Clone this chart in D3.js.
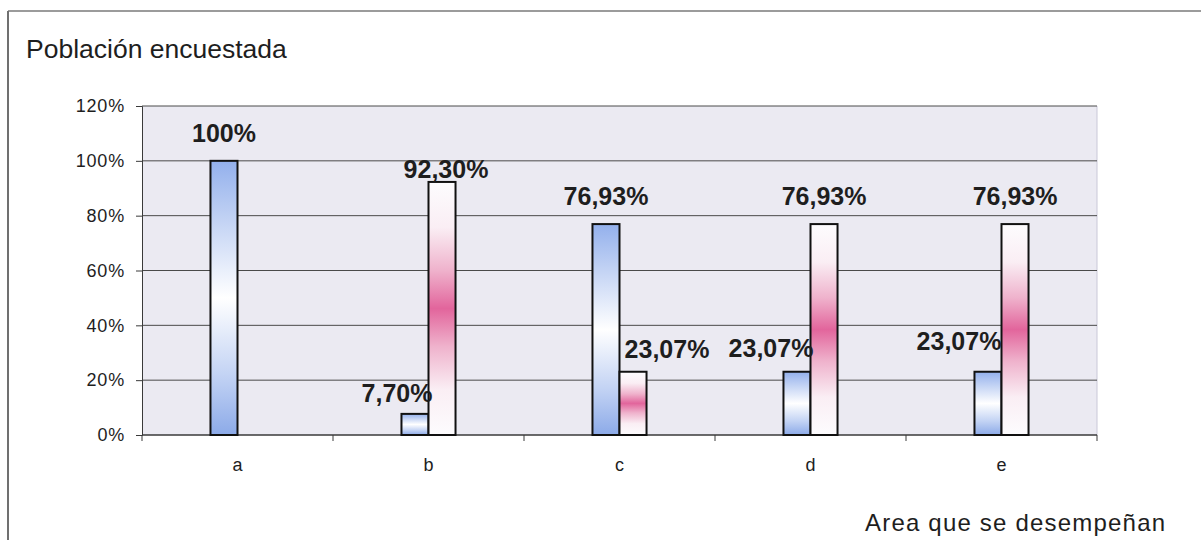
<!DOCTYPE html>
<html>
<head>
<meta charset="utf-8">
<script src="https://cdn.jsdelivr.net/npm/d3@7"></script>
<style>
  html, body { margin: 0; padding: 0; background: #fff; }
  svg { display: block; }
  text { font-family: "Liberation Sans", Arial, sans-serif; fill: #1e1e1e; }
</style>
</head>
<body>
<svg id="chart" width="1201" height="540"></svg>
<script>
// ---- data ----
const categories = ["a", "b", "c", "d", "e"];
const seriesNames = ["serie1", "serie2"];
const serie1 = [100, 7.70, 76.93, 23.07, 23.07];
const serie2 = [0, 92.30, 23.07, 76.93, 76.93];
const yTicks = [0, 20, 40, 60, 80, 100, 120];
const chartTitle = "Población encuestada";
const xTitle = "Area que se desempeñan";

// ---- layout config (label nudges, not data) ----
const labelNudge = {
  "serie1-b": [-18, 7], "serie2-b": [4, 15], "serie2-c": [34, 5],
  "serie1-d": [-26, 4], "serie1-e": [-29, -3]
};

const svg = d3.select("#chart");
const W = 1201, H = 540;
const plot = { left: 142, right: 1097, top: 106, bottom: 435 };

svg.append("rect").attr("width", W).attr("height", H).attr("fill", "#fff");

// outer frame (top + left)
svg.append("line").attr("x1", 8).attr("x2", W).attr("y1", 11).attr("y2", 11)
  .attr("stroke", "#7a7a7a").attr("stroke-width", 1.5);
svg.append("line").attr("x1", 8).attr("x2", 8).attr("y1", 11).attr("y2", H)
  .attr("stroke", "#707070").attr("stroke-width", 2);

// gradients
const defs = svg.append("defs");
const gBlue = defs.append("linearGradient").attr("id", "gBlue")
  .attr("x1", 0).attr("y1", 0).attr("x2", 0).attr("y2", 1);
[[0, "#93b0ec"], [0.22, "#c3d3f4"], [0.5, "#ffffff"], [0.78, "#c3d3f4"], [1, "#8caae8"]]
  .forEach(([o, c]) => gBlue.append("stop").attr("offset", o).attr("stop-color", c));
const gPink = defs.append("linearGradient").attr("id", "gPink")
  .attr("x1", 0).attr("y1", 0).attr("x2", 0).attr("y2", 1);
[[0, "#fdfcfe"], [0.18, "#faeef4"], [0.35, "#efb2cc"], [0.5, "#e2659c"], [0.65, "#efb2cc"], [0.82, "#faeef4"], [1, "#fdfcfe"]]
  .forEach(([o, c]) => gPink.append("stop").attr("offset", o).attr("stop-color", c));
const fills = { serie1: "url(#gBlue)", serie2: "url(#gPink)" };

// scales
const x0 = d3.scaleBand().domain(categories).range([plot.left, plot.right])
  .paddingInner(0.717).paddingOuter(0.3585);
const x1 = d3.scaleBand().domain(seriesNames).range([0, x0.bandwidth()]).padding(0);
const y = d3.scaleLinear().domain([0, 120]).range([plot.bottom, plot.top]);

// plot background
svg.append("rect").attr("x", plot.left).attr("y", plot.top)
  .attr("width", plot.right - plot.left).attr("height", plot.bottom - plot.top)
  .attr("fill", "#ebeaf2");
svg.append("line").attr("x1", plot.right).attr("x2", plot.right)
  .attr("y1", plot.top).attr("y2", plot.bottom).attr("stroke", "#c9c8d8");

// gridlines
svg.append("g").selectAll("line").data(yTicks.filter(t => t > 0)).join("line")
  .attr("x1", plot.left).attr("x2", plot.right)
  .attr("y1", d => y(d)).attr("y2", d => y(d))
  .attr("stroke", "#4a4a4a").attr("stroke-width", 1);

// y axis
const yAxis = svg.append("g").attr("transform", `translate(${plot.left},0)`)
  .call(d3.axisLeft(y).tickValues(yTicks).tickFormat(d => d + "%").tickSizeOuter(0).tickSize(6).tickPadding(11));
yAxis.select(".domain").attr("stroke", "#3a3a3a");
yAxis.selectAll(".tick line").attr("stroke", "#3a3a3a");
yAxis.selectAll("text").attr("font-size", 18).attr("letter-spacing", 0.8)
  .attr("font-family", "Liberation Sans, Arial, sans-serif").attr("fill", "#222");

// x axis
const xBound = d3.scaleLinear().domain([0, categories.length]).range([plot.left, plot.right]);
svg.append("line").attr("x1", plot.left).attr("x2", plot.right)
  .attr("y1", plot.bottom).attr("y2", plot.bottom).attr("stroke", "#3a3a3a").attr("stroke-width", 1.5);
svg.append("g").selectAll("line").data(d3.range(categories.length + 1)).join("line")
  .attr("x1", d => xBound(d)).attr("x2", d => xBound(d))
  .attr("y1", plot.bottom).attr("y2", plot.bottom + 6).attr("stroke", "#3a3a3a");
svg.append("g").selectAll("text").data(categories).join("text")
  .attr("x", d => x0(d) + x0.bandwidth() / 2).attr("y", 471)
  .attr("text-anchor", "middle").attr("font-size", 18).text(d => d);

// bars
const rows = categories.map((c, i) => ({ cat: c, vals: [
  { s: "serie1", v: serie1[i] }, { s: "serie2", v: serie2[i] }] }));
const groups = svg.append("g").selectAll("g").data(rows).join("g")
  .attr("transform", d => `translate(${x0(d.cat)},0)`);
groups.selectAll("rect").data(d => d.vals.filter(e => e.v > 0)).join("rect")
  .attr("x", d => x1(d.s)).attr("width", x1.bandwidth())
  .attr("y", d => y(d.v)).attr("height", d => y(0) - y(d.v))
  .attr("fill", d => fills[d.s]).attr("stroke", "#111").attr("stroke-width", 2);

// labels
const fmt = v => (v === 100 ? "100" : v.toFixed(2).replace(".", ",")) + "%";
groups.each(function (d) {
  const g = d3.select(this);
  d.vals.filter(e => e.v > 0).forEach(e => {
    const n = labelNudge[e.s + "-" + d.cat] || [0, 0];
    g.append("text")
      .attr("x", x1(e.s) + x1.bandwidth() / 2 + n[0])
      .attr("y", y(e.v) - 19 + n[1])
      .attr("text-anchor", "middle").attr("font-size", 25).attr("font-weight", "bold")
      .attr("fill", "#1a1a1a").text(fmt(e.v));
  });
});

// titles
svg.append("text").attr("x", 26).attr("y", 58).attr("font-size", 26.5).text(chartTitle);
svg.append("text").attr("x", 865).attr("y", 531).attr("font-size", 24)
  .attr("letter-spacing", 1.2).text(xTitle);
</script>
</body>
</html>
